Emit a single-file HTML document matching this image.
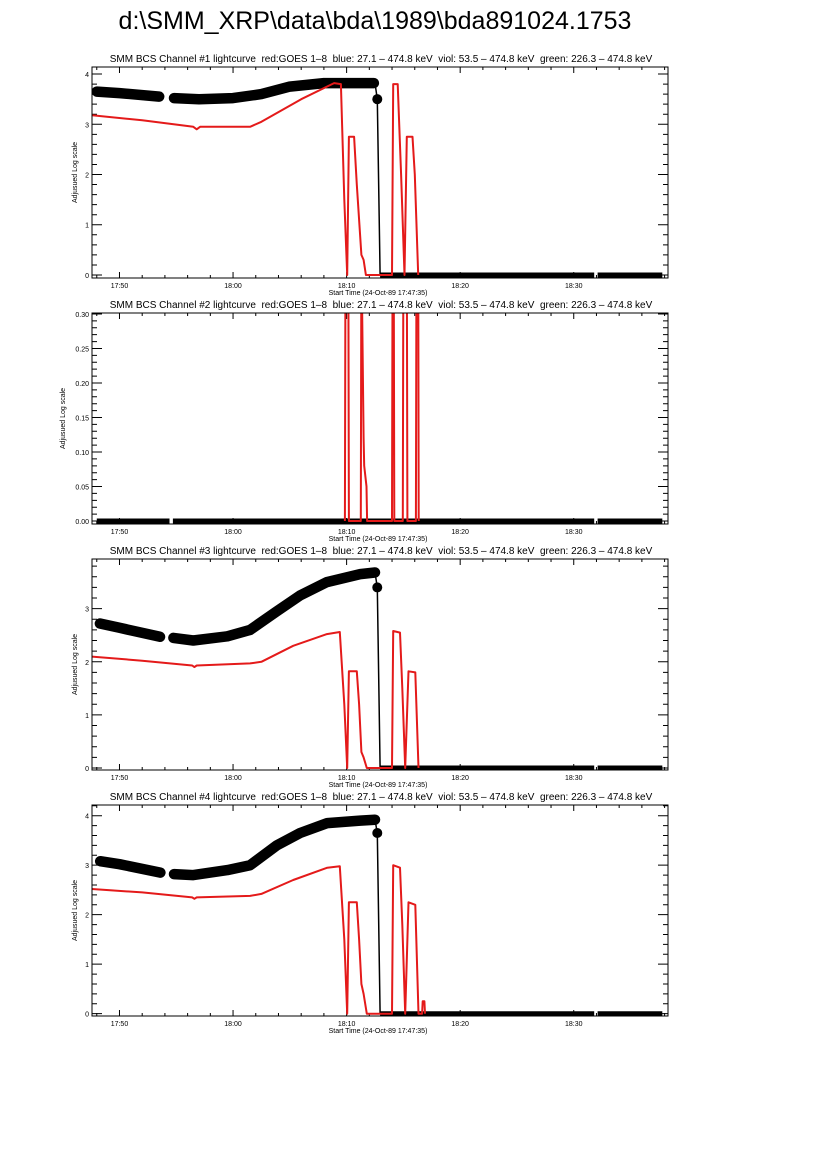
<!DOCTYPE html>
<html><head><meta charset="utf-8"><style>
html,body{margin:0;padding:0;background:#fff;}
svg{display:block;font-family:"Liberation Sans",sans-serif;}
</style></head><body>
<svg id="chart" width="826" height="1169" viewBox="0 0 826 1169">
<text x="375" y="29" font-size="25" text-anchor="middle">d:\SMM_XRP\data\bda\1989\bda891024.1753</text>
</svg>
<script>
// time in minutes after 17:00
const tMin = 47.58, tMax = 98.3;
const xTickLabels = ["17:50","18:00","18:10","18:20","18:30"];
const xTickMinutes = [50,60,70,80,90];
const panelTitles = [
 "SMM BCS Channel #1 lightcurve  red:GOES 1\u20138  blue: 27.1 \u2013 474.8 keV  viol: 53.5 \u2013 474.8 keV  green: 226.3 \u2013 474.8 keV",
 "SMM BCS Channel #2 lightcurve  red:GOES 1\u20138  blue: 27.1 \u2013 474.8 keV  viol: 53.5 \u2013 474.8 keV  green: 226.3 \u2013 474.8 keV",
 "SMM BCS Channel #3 lightcurve  red:GOES 1\u20138  blue: 27.1 \u2013 474.8 keV  viol: 53.5 \u2013 474.8 keV  green: 226.3 \u2013 474.8 keV",
 "SMM BCS Channel #4 lightcurve  red:GOES 1\u20138  blue: 27.1 \u2013 474.8 keV  viol: 53.5 \u2013 474.8 keV  green: 226.3 \u2013 474.8 keV"];
const yTicks1 = [0,1,2,3,4];
const yTicks2 = [0,0.05,0.10,0.15,0.20,0.25,0.30];
const yTicks3 = [0,1,2,3];
const yTicks4 = [0,1,2,3,4];
// Black BCS series (anchor times / values); null = gap
const bT1 = [48.0,50,53.5,null,54.8,57,60,62.5,65,68,72.4];
const bV1 = [3.65,3.62,3.55,null,3.52,3.5,3.52,3.6,3.75,3.82,3.82];
const bT3 = [48.28,50,53.57,null,54.75,56.5,59.5,61.5,63.85,65.9,68.26,71.2,72.5];
const bV3 = [2.72,2.64,2.47,null,2.45,2.4,2.48,2.6,2.95,3.25,3.5,3.65,3.68];
const bT4 = [48.3,50,53.6,null,54.8,56.5,59.5,61.5,63.85,65.9,68.3,71.2,72.5];
const bV4 = [3.08,3.02,2.85,null,2.82,2.8,2.9,3.0,3.4,3.65,3.85,3.9,3.92];
const dropT = [72.5,72.7,72.95];
const dropV1 = [3.82,3.5,0];
const dropV3 = [3.68,3.4,0];
const dropV4 = [3.92,3.65,0];
const dotT = 72.7;
const zeroT = [72.95,91.8,null,92.1,97.8];
const zeroT2 = [48.0,54.4,null,54.7,91.8,null,92.1,97.8];
// Red GOES series
const rT1 = [47.58,52,56.5,56.8,57.1,61.5,62.5,66,68.9,69.5,69.8,70.05,70.2,70.66,70.9,71.3,71.5,71.7,74.0,74.1,74.5,74.8,75.1,75.3,75.8,76.0,76.3];
const rV1 = [3.18,3.08,2.95,2.9,2.95,2.95,3.05,3.5,3.82,3.8,1.5,0,2.75,2.75,1.8,0.4,0.3,0,0,3.8,3.8,2.0,0,2.75,2.75,2.0,0];
const rT2 = [69.85,69.9,70.15,70.2,71.25,71.3,71.5,71.55,71.75,71.8,74.0,74.05,74.15,74.2,74.95,75.0,75.3,75.35,76.1,76.15,76.3,76.35];
const rV2 = [0,0.4,0.4,0,0,0.4,0.12,0.08,0.05,0,0,0.4,0.4,0,0,0.4,0.4,0,0,0.4,0.4,0];
const rT3 = [47.4,52,56.4,56.6,56.8,61.5,62.5,65.3,68.26,69.4,69.8,70.05,70.2,70.9,71.1,71.3,71.5,71.78,74.0,74.1,74.7,74.9,75.16,75.45,76.05,76.33];
const rV3 = [2.1,2.02,1.93,1.9,1.93,1.97,2.0,2.3,2.52,2.56,1.2,0,1.82,1.82,1.2,0.3,0.2,0,0,2.58,2.55,1.5,0,1.82,1.8,0];
const rT4 = [47.4,52,56.4,56.6,56.8,61.5,62.5,65.3,68.3,69.4,69.8,70.05,70.2,70.9,71.1,71.3,71.5,71.78,74.0,74.1,74.7,74.9,75.16,75.45,76.05,76.33,76.65,76.7,76.85,76.9];
const rV4 = [2.52,2.45,2.35,2.32,2.35,2.38,2.42,2.7,2.95,2.98,1.5,0,2.25,2.25,1.5,0.6,0.4,0,0,3.0,2.95,1.8,0,2.25,2.2,0,0,0.25,0.25,0];

const panels = [
 {top:67,bottom:278,ymin:-0.06,ymax:4.14,ticks:yTicks1,minor:0.2,fmt:v=>String(v),bT:bT1,bV:bV1,dropV:dropV1,zero:zeroT,rT:rT1,rV:rV1},
 {top:313,bottom:524,ymin:-0.0043,ymax:0.3014,ticks:yTicks2,minor:0.01,fmt:v=>v.toFixed(2),bT:null,zero:zeroT2,rT:rT2,rV:rV2},
 {top:559,bottom:770,ymin:-0.038,ymax:3.935,ticks:yTicks3,minor:0.2,fmt:v=>String(v),bT:bT3,bV:bV3,dropV:dropV3,zero:zeroT,rT:rT3,rV:rV3},
 {top:805,bottom:1016,ymin:-0.047,ymax:4.216,ticks:yTicks4,minor:0.2,fmt:v=>String(v),bT:bT4,bV:bV4,dropV:dropV4,zero:zeroT,rT:rT4,rV:rV4}
];
const L=92,R=668;
const svg=document.getElementById('chart');
const NS='http://www.w3.org/2000/svg';
function mk(tag,attrs,parent){const e=document.createElementNS(NS,tag);for(const k in attrs)e.setAttribute(k,attrs[k]);parent.appendChild(e);return e;}
function xs(t){return L+(t-tMin)/(tMax-tMin)*(R-L);}
function pathFrom(T,V,ys){let d='',pen=false;for(let i=0;i<T.length;i++){if(T[i]===null){pen=false;continue;}const x=xs(T[i]),y=ys(Math.min(Math.max(V[i],-1),1e9));d+=(pen?'L':'M')+x.toFixed(1)+' '+y.toFixed(1);pen=true;}return d;}
panels.forEach((p,i)=>{
 const g=mk('g',{},svg);
 
 
 const ys=v=>p.bottom-(v-p.ymin)/(p.ymax-p.ymin)*(p.bottom-p.top);
 const cid='clip'+i;
 const cp=mk('clipPath',{id:cid},g);mk('rect',{x:L,y:p.top,width:R-L,height:p.bottom-p.top},cp);
 const title=mk('text',{x:381,y:p.top-5,'font-size':10,'text-anchor':'middle',style:'white-space:pre'},g);title.textContent=panelTitles[i];
 
 
 const yl=mk('text',{x:0,y:0,'font-size':7,'text-anchor':'middle',transform:`translate(${i==1?65:77},${(p.top+p.bottom)/2}) rotate(-90)`},g);yl.textContent='Adjusued Log scale';
 
 
 const xl=mk('text',{x:378,y:p.bottom+17,'font-size':7,'text-anchor':'middle'},g);xl.textContent='Start Time (24-Oct-89 17:47:35)';
 
 
 let td='';
 for(let m=48;m<=tMax;m+=2){const x=xs(m);const big=m%10===0;const len=big?6:3;td+=`M${x} ${p.bottom}v${-len}M${x} ${p.top}v${len}`;}
 const n=Math.round((p.ymax)/p.minor);
 for(let k=0;k<=n;k++){const v=k*p.minor;if(v>p.ymax)break;const y=ys(v);const big=p.ticks.some(t=>Math.abs(t-v)<1e-9);const len=big?10:5;td+=`M${L} ${y}h${len}M${R} ${y}h${-len}`;}
 const tk=mk('path',{d:td,stroke:'#000','stroke-width':1,fill:'none'},g);
 
 
 xTickLabels.forEach((lab,j)=>{const t=mk('text',{x:xs(xTickMinutes[j]),y:p.bottom+10,'font-size':7,'text-anchor':'middle'},g);t.textContent=lab;
  
  });
 p.ticks.forEach(v=>{const t=mk('text',{x:L-3,y:ys(v)+3,'font-size':7,'text-anchor':'end'},g);t.textContent=p.fmt(v);
  
  });
 const data=mk('g',{'clip-path':`url(#${cid})`},g);
 if(p.bT){
  const b=mk('path',{d:pathFrom(p.bT,p.bV,ys),stroke:'#000','stroke-width':10.5,fill:'none','stroke-linecap':'round','stroke-linejoin':'round'},data);
  
  
  const dr=mk('path',{d:pathFrom(dropT,p.dropV,ys),stroke:'#000','stroke-width':1.5,fill:'none'},data);
  
  
  const dot=mk('circle',{cx:xs(dotT),cy:ys(p.dropV[1]),r:5,fill:'#000'},data);
  
  
 }
 const z=mk('path',{d:pathFrom(p.zero,p.zero.map(()=>0),ys),stroke:'#000','stroke-width':5,fill:'none'},data);
 
 
 const r=mk('path',{d:pathFrom(p.rT,p.rV,ys),stroke:'#e41a1a','stroke-width':2,fill:'none','stroke-linejoin':'round'},data);
 
 
 const box=mk('rect',{x:L,y:p.top,width:R-L,height:p.bottom-p.top,fill:'none',stroke:'#000','stroke-width':1},g);
 
 
});
</script>
</body></html>
